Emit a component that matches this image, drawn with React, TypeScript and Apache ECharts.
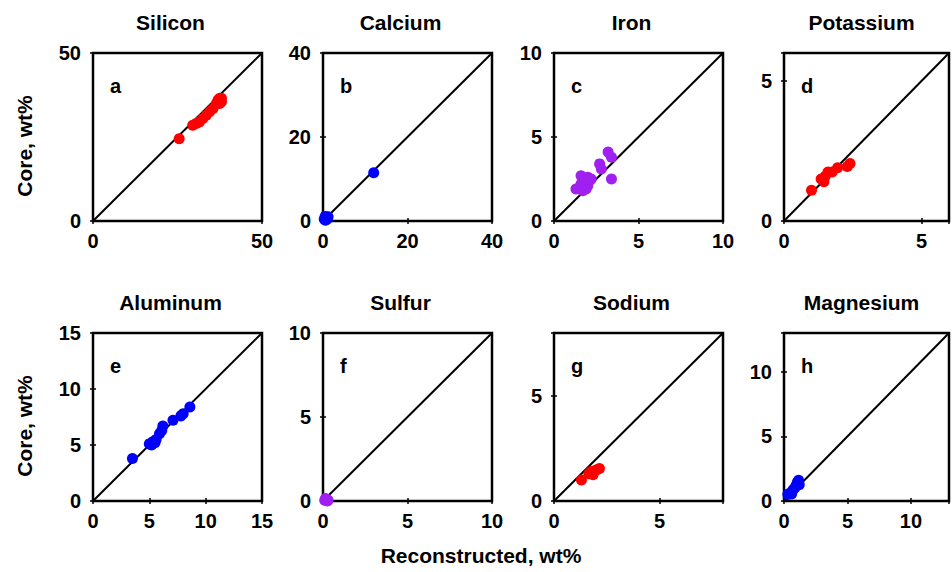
import { useEffect, useRef } from "react";
import * as echarts from "echarts";

const panelTitles = ["Silicon", "Calcium", "Iron", "Potassium", "Aluminum", "Sulfur", "Sodium", "Magnesium"];
const panelLetters = ["a", "b", "c", "d", "e", "f", "g", "h"];
const axisMax = [50, 40, 10, 6, 15, 10, 8, 13];
const tickStep = [50, 20, 5, 5, 5, 5, 5, 5];
const tickLabels = [[0, 50], [0, 20, 40], [0, 5, 10], [0, 5], [0, 5, 10, 15], [0, 5, 10], [0, 5], [0, 5, 10]];
const pointColors = ["#ff0000", "#0000ff", "#a020f0", "#ff0000", "#0000ff", "#a020f0", "#ff0000", "#0000ff"];

const yAxisName = "Core, wt%";
const xAxisName = "Reconstructed, wt%";

const silicon = [[25.5, 24.5], [29.5, 28.5], [30.5, 29], [31.5, 29.5], [32.5, 30.5], [33.5, 31.5], [34.5, 32.5], [35.5, 33.5], [36.5, 35], [37, 36], [37.5, 36.5], [38, 35.5], [37.5, 35], [38, 36.5]];
const calcium = [[0.3, 0.4], [0.6, 0.2], [0.8, 0.8], [1.0, 0.5], [1.2, 1.0], [0.5, 1.1], [12, 11.5]];
const iron = [[1.3, 1.9], [1.5, 2.0], [1.6, 2.7], [1.7, 1.8], [1.8, 2.2], [1.9, 1.9], [2.0, 2.6], [2.1, 2.4], [2.0, 2.1], [2.2, 2.5], [1.6, 2.2], [2.7, 3.4], [2.8, 3.1], [3.2, 4.1], [3.4, 3.8], [3.4, 2.5]];
const potassium = [[1.0, 1.1], [1.35, 1.5], [1.45, 1.4], [1.5, 1.6], [1.6, 1.75], [1.75, 1.75], [1.95, 1.9], [2.3, 1.95], [2.4, 2.05]];
const aluminum = [[3.5, 3.8], [5.0, 5.1], [5.2, 5.0], [5.3, 5.3], [5.5, 5.2], [5.6, 5.5], [5.9, 6.0], [6.1, 6.3], [6.2, 6.7], [7.1, 7.2], [7.8, 7.6], [8.0, 7.8], [8.6, 8.4]];
const sulfur = [[0.1, 0.05], [0.2, 0.1], [0.25, 0.0], [0.15, 0.15], [0.3, 0.05]];
const sodium = [[1.3, 1.0], [1.65, 1.3], [1.75, 1.4], [1.85, 1.25], [1.95, 1.45], [2.05, 1.5], [2.15, 1.55]];
const magnesium = [[0.3, 0.5], [0.45, 0.6], [0.6, 0.55], [0.7, 0.85], [0.85, 1.0], [0.95, 1.2], [1.05, 1.45], [1.15, 1.6], [1.2, 1.25]];

const panelData = [silicon, calcium, iron, potassium, aluminum, sulfur, sodium, magnesium];

const FONT = '"Liberation Sans", Arial, sans-serif';

export default function App() {
  const ref = useRef<HTMLDivElement>(null);
  useEffect(() => {
    if (!ref.current) return;
    const chart = echarts.init(ref.current, null, { renderer: "svg" });
    const colLefts = [93, 323, 554, 784];
    const rowTops = [53, 333];
    const W = 169;
    const H = 168;
    const grids: any[] = [];
    const xAxes: any[] = [];
    const yAxes: any[] = [];
    const series: any[] = [];
    const graphics: any[] = [];
    const tickStyle = { show: true, inside: true, length: 3, lineStyle: { color: "#000", width: 1.5 } };
    for (let i = 0; i < 8; i++) {
      const left = colLefts[i % 4];
      const top = rowTops[Math.floor(i / 4)];
      grids.push({ left, top, width: W, height: H, show: true, borderColor: "#000", borderWidth: 2.5, backgroundColor: "transparent", containLabel: false });
      const labels = tickLabels[i];
      const fmt = (v: number) => (labels.includes(v) ? String(v) : "");
      const labelStyle = { fontSize: 20, fontWeight: "bold", color: "#000", fontFamily: FONT };
      const base = { type: "value", gridIndex: i, min: 0, max: axisMax[i], interval: tickStep[i], axisLine: { show: false }, axisTick: tickStyle, splitLine: { show: false } };
      xAxes.push({ ...base, position: "bottom", axisLabel: { ...labelStyle, formatter: fmt, margin: 10 } });
      xAxes.push({ ...base, position: "top", axisLabel: { show: false } });
      yAxes.push({ ...base, position: "left", axisLabel: { ...labelStyle, formatter: fmt, margin: 12 } });
      yAxes.push({ ...base, position: "right", axisLabel: { show: false } });
      series.push({
        type: "line",
        xAxisIndex: 2 * i,
        yAxisIndex: 2 * i,
        data: [[0, 0], [axisMax[i], axisMax[i]]],
        symbol: "none",
        lineStyle: { color: "#000", width: 2 },
        z: 2,
        silent: true,
      });
      series.push({
        type: "scatter",
        xAxisIndex: 2 * i,
        yAxisIndex: 2 * i,
        data: panelData[i],
        symbol: "circle",
        symbolSize: 11,
        itemStyle: { color: pointColors[i], opacity: 1 },
        clip: false,
        z: 3,
      });
      graphics.push({
        type: "text",
        x: left + W / 2 - 7,
        y: top - 31,
        style: { text: panelTitles[i], font: `bold 21px ${FONT}`, fill: "#000", align: "center", verticalAlign: "middle" },
      });
      graphics.push({
        type: "text",
        x: left + 17,
        y: top + 33,
        style: { text: panelLetters[i], font: `bold 20px ${FONT}`, fill: "#000", align: "left", verticalAlign: "middle" },
      });
    }
    graphics.push({
      type: "text", x: 24, y: 146, rotation: Math.PI / 2,
      style: { text: yAxisName, font: `bold 21px ${FONT}`, fill: "#000", align: "center", verticalAlign: "middle" },
    });
    graphics.push({
      type: "text", x: 24, y: 426, rotation: Math.PI / 2,
      style: { text: yAxisName, font: `bold 21px ${FONT}`, fill: "#000", align: "center", verticalAlign: "middle" },
    });
    graphics.push({
      type: "text", x: 481, y: 555,
      style: { text: xAxisName, font: `bold 21px ${FONT}`, fill: "#000", align: "center", verticalAlign: "middle" },
    });
    chart.setOption({
      animation: false,
      backgroundColor: "#fff",
      grid: grids,
      xAxis: xAxes,
      yAxis: yAxes,
      series,
      graphic: graphics,
    });
    return () => chart.dispose();
  }, []);
  return <div ref={ref} style={{ position: "fixed", left: 0, top: 0, width: 952, height: 572 }} />;
}
